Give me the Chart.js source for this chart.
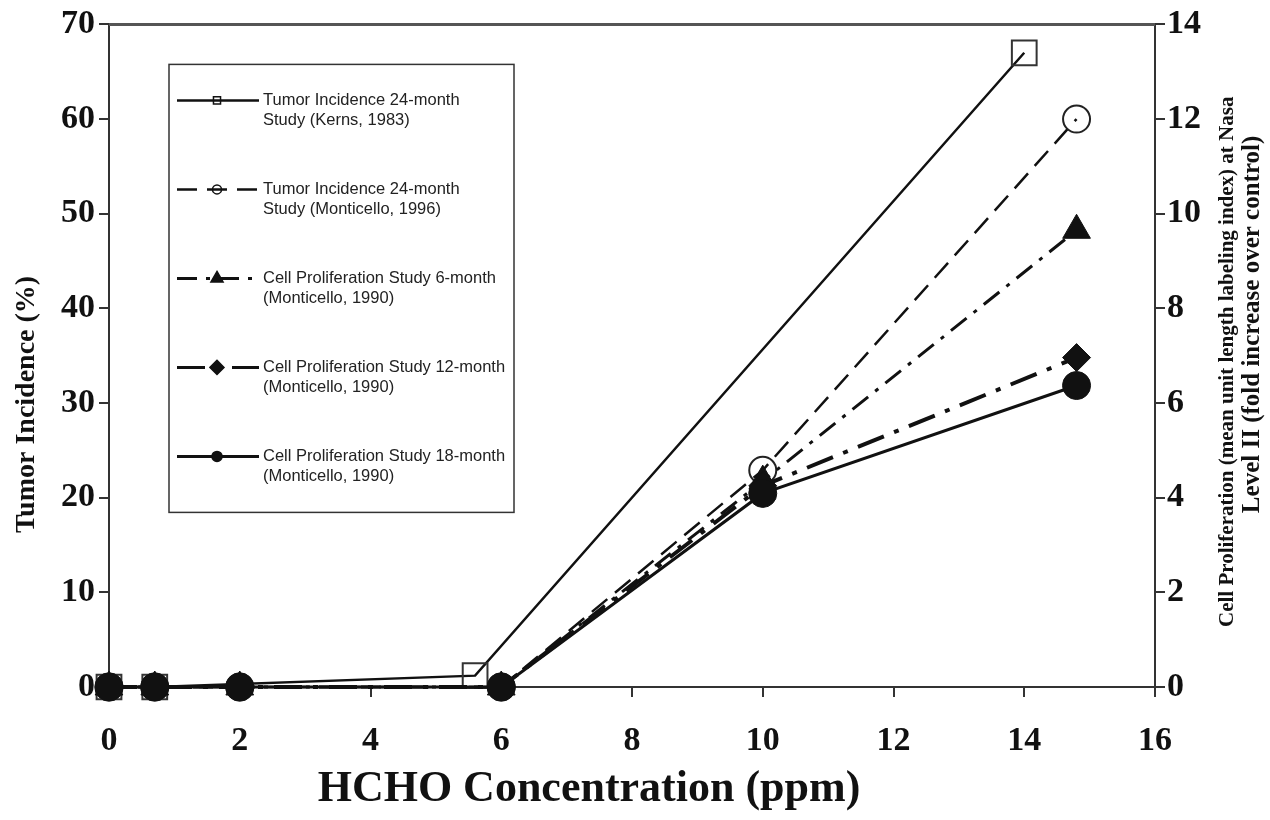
<!DOCTYPE html>
<html>
<head>
<meta charset="utf-8">
<script src="https://cdn.jsdelivr.net/npm/chart.js@4.4.1/dist/chart.umd.min.js"></script>
<style>
  html, body { margin: 0; padding: 0; background: #fff; }
  #wrap { width: 1270px; height: 820px; }
</style>
</head>
<body>
<div id="wrap"><canvas id="chart" width="1270" height="820"></canvas></div>
<script>
// values
const doseTicks = [0, 2, 4, 6, 8, 10, 12, 14, 16];
const tumorTicks = [0, 10, 20, 30, 40, 50, 60, 70];
const prolifTicks = [0, 2, 4, 6, 8, 10, 12, 14];

const kernsDose = [0, 0.7, 5.6, 14];
const kernsTumor = [0, 0, 1.2, 67];

const monticelloDose = [0, 0.7, 2, 6, 10, 14.8];
const monticelloTumor = [0, 0, 0, 0, 22.9, 60];

const prolifDose = [0, 0.7, 2, 6, 10, 14.8];
const prolif6 = [0, 0, 0, 0, 4.35, 9.65];
const prolif12 = [0, 0, 0, 0, 4.25, 6.96];
const prolif18 = [0, 0, 0, 0, 4.09, 6.37];

const legendLabels = [
  ['Tumor Incidence 24-month', 'Study (Kerns, 1983)'],
  ['Tumor Incidence 24-month', 'Study (Monticello, 1996)'],
  ['Cell Proliferation Study 6-month', '(Monticello, 1990)'],
  ['Cell Proliferation Study 12-month', '(Monticello, 1990)'],
  ['Cell Proliferation Study 18-month', '(Monticello, 1990)'],
];

const rightTitle = [
  'Cell Proliferation (mean unit length labeling index) at Nasal',
  'Level II (fold increase over control)',
];
const xTitle = 'HCHO Concentration (ppm)';
const yTitle = 'Tumor Incidence (%)';

const INK = '#111';
const SERIF = '"Liberation Serif", "Times New Roman", serif';

function pairs(xs, ys) {
  return xs.map((x, i) => ({ x, y: ys[i] }));
}

function fixedTicks(values) {
  return (scale) => {
    scale.ticks = values.map((v) => ({ value: v }));
  };
}

const frameAndLegend = {
  id: 'frameAndLegend',
  afterDraw(chart) {
    const { ctx, chartArea } = chart;
    ctx.save();

    // top border of the frame
    ctx.strokeStyle = '#555';
    ctx.lineWidth = 3;
    ctx.beginPath();
    ctx.moveTo(chartArea.left, chartArea.top);
    ctx.lineTo(chartArea.right, chartArea.top);
    ctx.stroke();

    // legend box
    const lx = chartArea.left + 60;
    const ly = chartArea.top + 40;
    const lw = 345;
    const lh = 448;
    ctx.strokeStyle = '#333';
    ctx.lineWidth = 1.5;
    ctx.strokeRect(lx, ly, lw, lh);

    const sizes = [5, 4.5, 7, 7, 5];
    chart.data.datasets.forEach((ds, i) => {
      const cy = ly + 36 + i * 89;
      ctx.save();
      ctx.strokeStyle = INK;
      ctx.lineWidth = Math.min(ds.borderWidth, 3);
      ctx.setLineDash(ds.borderDash || []);
      ctx.beginPath();
      ctx.moveTo(lx + 8, cy);
      ctx.lineTo(lx + 90, cy);
      ctx.stroke();
      ctx.setLineDash([]);
      ctx.fillStyle = ds.pointBackgroundColor;
      ctx.strokeStyle = INK;
      ctx.lineWidth = 1.5;
      Chart.helpers.drawPoint(ctx, {
        pointStyle: ds.pointStyle,
        radius: sizes[i],
        borderWidth: 1.5,
        rotation: 0,
      }, lx + 48, cy);
      ctx.restore();

      ctx.fillStyle = '#222';
      ctx.font = '16.5px "Liberation Sans", Arial, sans-serif';
      ctx.textAlign = 'left';
      ctx.textBaseline = 'middle';
      legendLabels[i].forEach((t, k) => {
        ctx.fillText(t, lx + 94, cy + k * 20);
      });
    });

    ctx.fillStyle = INK;
    ctx.textBaseline = 'middle';

    // x axis title, sitting a little left of the plot centre
    ctx.font = 'bold 44px ' + SERIF;
    ctx.textAlign = 'center';
    ctx.fillText(xTitle, chartArea.left + 480, chartArea.bottom + 103);

    // left axis title
    ctx.save();
    ctx.font = 'bold 28px ' + SERIF;
    ctx.translate(chartArea.left - 82, chartArea.top + 380);
    ctx.rotate(-Math.PI / 2);
    ctx.textAlign = 'center';
    ctx.fillText(yTitle, 0, 0);
    ctx.restore();

    // right axis title, two rotated lines, first one cut at the top
    ctx.save();
    ctx.font = 'bold 21px ' + SERIF;
    ctx.beginPath();
    ctx.rect(chartArea.right + 55, chartArea.top + 72, 40, chartArea.bottom);
    ctx.clip();
    ctx.translate(chartArea.right + 73, chartArea.bottom - 60);
    ctx.rotate(-Math.PI / 2);
    ctx.textAlign = 'left';
    ctx.fillText(rightTitle[0], 0, 0);
    ctx.restore();

    ctx.save();
    ctx.font = 'bold 25px ' + SERIF;
    ctx.translate(chartArea.right + 98, chartArea.top + 300);
    ctx.rotate(-Math.PI / 2);
    ctx.textAlign = 'center';
    ctx.fillText(rightTitle[1], 0, 0);
    ctx.restore();

    ctx.restore();
  },
};

const tickFont = { family: SERIF, size: 34, weight: 'bold' };

new Chart(document.getElementById('chart'), {
  type: 'line',
  data: {
    datasets: [
      {
        label: legendLabels[0].join(' '),
        data: pairs(kernsDose, kernsTumor),
        yAxisID: 'y',
        borderColor: INK,
        borderWidth: 2.5,
        pointStyle: 'rect',
        pointRadius: 17.5,
        pointBorderWidth: 2,
        pointBorderColor: '#333',
        pointBackgroundColor: 'rgba(0,0,0,0)',
        order: 4,
      },
      {
        label: legendLabels[1].join(' '),
        data: pairs(monticelloDose, monticelloTumor),
        yAxisID: 'y',
        borderColor: INK,
        borderWidth: 2.5,
        borderDash: [20, 10],
        pointStyle: 'circle',
        pointRadius: 13.5,
        pointBorderWidth: 2,
        pointBorderColor: '#222',
        pointBackgroundColor: 'rgba(0,0,0,0)',
        order: 3,
      },
      {
        label: legendLabels[2].join(' '),
        data: pairs(prolifDose, prolif6),
        yAxisID: 'y2',
        borderColor: INK,
        borderWidth: 3,
        borderDash: [20, 9, 4, 9],
        pointStyle: 'triangle',
        pointRadius: 16,
        pointBorderWidth: 1,
        pointBorderColor: INK,
        pointBackgroundColor: INK,
        order: 2,
      },
      {
        label: legendLabels[3].join(' '),
        data: pairs(prolifDose, prolif12),
        yAxisID: 'y2',
        borderColor: INK,
        borderWidth: 4,
        borderDash: [28, 11, 5, 11],
        pointStyle: 'rectRot',
        pointRadius: 14,
        pointBorderWidth: 1,
        pointBorderColor: INK,
        pointBackgroundColor: INK,
        order: 1,
      },
      {
        label: legendLabels[4].join(' '),
        data: pairs(prolifDose, prolif18),
        yAxisID: 'y2',
        borderColor: INK,
        borderWidth: 3,
        pointStyle: 'circle',
        pointRadius: 14,
        pointBorderWidth: 1,
        pointBorderColor: INK,
        pointBackgroundColor: INK,
        order: 0,
      },
    ],
  },
  options: {
    responsive: false,
    animation: false,
    clip: false,
    events: [],
    layout: { padding: { top: 23, right: 0, bottom: 0, left: 0 } },
    plugins: {
      legend: { display: false },
      tooltip: { enabled: false },
    },
    elements: { line: { tension: 0, fill: false } },
    scales: {
      x: {
        type: 'linear',
        min: 0,
        max: 16,
        afterBuildTicks: fixedTicks(doseTicks),
        afterFit(scale) { scale.height = 133; },
        border: { display: true, color: '#333', width: 2 },
        grid: { drawOnChartArea: false, tickLength: 10, color: '#333', lineWidth: 2 },
        ticks: { color: INK, font: tickFont, padding: 24, maxRotation: 0 },
      },
      y: {
        type: 'linear',
        position: 'left',
        min: 0,
        max: 70,
        afterBuildTicks: fixedTicks(tumorTicks),
        afterFit(scale) { scale.width = 109; },
        border: { display: true, color: '#333', width: 2 },
        grid: { drawOnChartArea: false, tickLength: 10, color: '#333', lineWidth: 2 },
        ticks: { color: INK, font: tickFont, padding: 4 },
      },
      y2: {
        type: 'linear',
        position: 'right',
        min: 0,
        max: 14,
        afterBuildTicks: fixedTicks(prolifTicks),
        afterFit(scale) { scale.width = 115; },
        border: { display: true, color: '#333', width: 2 },
        grid: { drawOnChartArea: false, tickLength: 10, color: '#333', lineWidth: 2 },
        ticks: { color: INK, font: tickFont, padding: 2 },
      },
    },
  },
  plugins: [frameAndLegend],
});
</script>
</body>
</html>
